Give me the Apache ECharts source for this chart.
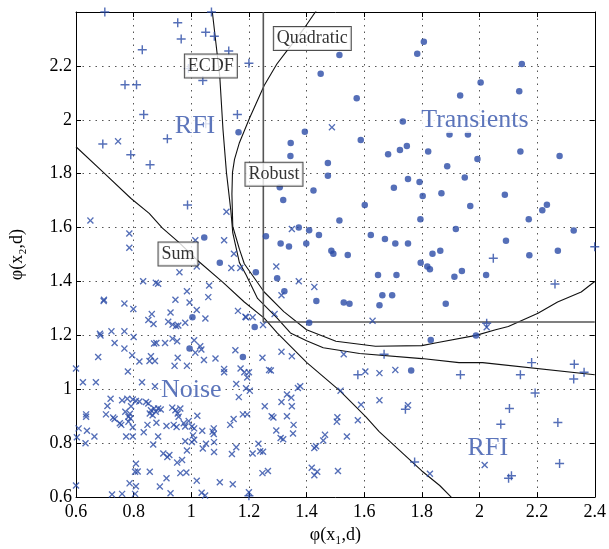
<!DOCTYPE html>
<html>
<head>
<meta charset="utf-8">
<script src="https://cdn.jsdelivr.net/npm/echarts@6/dist/echarts.min.js"></script>
<style>
  html, body { margin: 0; padding: 0; background: #fff; }
  #chart { width: 609px; height: 549px; }
</style>
</head>
<body>
<div id="chart"></div>
<script>
// axis ticks
const axisMin = 0.6
const axisMax = 2.4
const axisStep = 0.2

// RFI points (+)
const rfiPoints = [
  [0.70, 2.40], [0.953, 2.36], [1.07, 2.40], [1.05, 2.325], [1.08, 2.31], [0.965, 2.30],
  [0.83, 2.26], [1.13, 2.255], [1.20, 2.21], [0.99, 2.19], [1.04, 2.146], [0.77, 2.13],
  [0.81, 2.13], [0.835, 2.02], [1.05, 1.985], [1.16, 2.02], [0.693, 1.91], [0.917, 1.93],
  [0.79, 1.87], [0.857, 1.833], [0.987, 1.684], [2.048, 1.486], [2.40, 1.529], [2.262, 1.391],
  [2.025, 1.245], [1.669, 1.13], [1.578, 1.054], [1.743, 0.926], [1.775, 0.73],
  [2.181, 1.099], [2.329, 1.093], [2.363, 1.063], [2.327, 1.038], [1.934, 1.054], [2.142, 1.054],
  [2.193, 0.986], [2.104, 0.929], [2.074, 0.87], [2.272, 0.877], [2.278, 0.725], [2.101, 0.67],
  [2.111, 0.679], [1.2, 0.605]
]

// Noise points (x)
const noisePoints = [
  [0.746, 1.92], [0.65, 1.626], [1.122, 1.659], [0.785, 1.578], [0.785, 1.525], [1.014, 1.553],
  [1.114, 1.553], [1.148, 1.503], [1.019, 1.456], [1.139, 1.45], [1.17, 1.45], [0.959, 1.434],
  [0.833, 1.401], [0.877, 1.395], [0.885, 1.392], [0.985, 1.364], [1.062, 1.385], [0.697, 1.332],
  [0.696, 1.328], [0.768, 1.318], [0.799, 1.298], [0.945, 1.332], [1.059, 1.342], [0.994, 1.322],
  [1.019, 1.294], [0.928, 1.285], [0.863, 1.279], [0.851, 1.257], [0.869, 1.242], [0.92, 1.251],
  [0.935, 1.24], [0.947, 1.235], [0.955, 1.237], [0.979, 1.247], [1.049, 1.263], [1.162, 1.291],
  [1.188, 1.269], [0.723, 1.215], [0.768, 1.215], [0.683, 1.206],
  [1.488, 1.972], [1.349, 1.595], [1.295, 1.456], [1.373, 1.401], [1.427, 1.38], [1.313, 1.349],
  [1.289, 1.279], [1.19, 1.267], [1.213, 1.267], [1.249, 1.239], [1.629, 1.254], [2.025, 1.23],
  [0.685, 1.2], [0.8, 1.194], [0.734, 1.172], [0.768, 1.151], [0.677, 1.12], [0.795, 1.126],
  [0.82, 1.103], [0.6, 1.077], [0.78, 1.066], [0.86, 1.123], [0.855, 1.105], [0.874, 1.105],
  [0.871, 1.17], [0.879, 1.172], [0.909, 1.172], [0.935, 1.188], [0.951, 1.178], [1.01, 1.182],
  [1.031, 1.16], [1.035, 1.148], [1.014, 1.136], [0.953, 1.117], [0.942, 1.087], [0.985, 1.087],
  [1.044, 1.109], [1.084, 1.114], [1.153, 1.145], [1.114, 1.075], [1.114, 1.063], [1.171, 1.077],
  [1.184, 1.063], [0.624, 1.026], [0.669, 1.026], [0.829, 1.026], [0.874, 1.011], [1.156, 1.02],
  [1.19, 1.004], [1.165, 0.971], [0.72, 0.965], [0.76, 0.959], [0.778, 0.965], [0.797, 0.962],
  [0.808, 0.957], [0.82, 0.955], [0.843, 0.953], [0.851, 0.947], [0.709, 0.938], [0.791, 0.937],
  [0.771, 0.917], [0.787, 0.909], [0.86, 0.922], [0.871, 0.929], [0.885, 0.929], [0.894, 0.925],
  [0.856, 0.91], [0.866, 0.904], [0.877, 0.917], [0.934, 0.932], [0.945, 0.922], [0.962, 0.929],
  [0.953, 0.91], [0.956, 0.898], [1.179, 0.907], [0.635, 0.907], [0.635, 0.898], [0.704, 0.907],
  [0.729, 0.895], [0.734, 0.89], [0.752, 0.874], [0.757, 0.868], [0.782, 0.898], [0.789, 0.892],
  [0.782, 0.88], [0.797, 0.859], [0.848, 0.868], [0.879, 0.876], [0.914, 0.864], [0.939, 0.868],
  [0.949, 0.86], [0.974, 0.874], [0.979, 0.862], [1.002, 0.862], [1.01, 0.855], [1.021, 0.902],
  [0.991, 0.882], [1.078, 0.855], [1.074, 0.843], [1.078, 0.834], [1.135, 0.868], [1.147, 0.89],
  [1.038, 0.846], [0.609, 0.855], [0.603, 0.822], [0.638, 0.846], [0.664, 0.825], [0.774, 0.825],
  [0.797, 0.825], [0.835, 0.841], [0.885, 0.825], [1.006, 0.829], [1.01, 0.813], [0.979, 0.807],
  [1.002, 0.804], [0.633, 0.8], [0.868, 0.795], [1.051, 0.798], [1.04, 0.78], [1.079, 0.804],
  [1.079, 0.767], [1.156, 0.785], [1.141, 0.76], [0.985, 0.773], [0.903, 0.762], [0.924, 0.756],
  [0.917, 0.749], [0.951, 0.728], [0.968, 0.738], [0.808, 0.724], [0.805, 0.694], [0.814, 0.695],
  [0.856, 0.694], [0.914, 0.67], [0.962, 0.689], [0.983, 0.691], [1.019, 0.661], [1.099, 0.655],
  [1.144, 0.648], [0.6, 0.643], [0.786, 0.651], [0.808, 0.64], [0.891, 0.639], [0.928, 0.614],
  [0.725, 0.61], [0.76, 0.612], [0.805, 0.612], [1.036, 0.616], [1.048, 0.606], [1.2, 0.618],
  [1.247, 1.117], [1.313, 1.139], [1.349, 1.123], [1.27, 1.072], [1.276, 1.07], [1.2, 1.063],
  [1.194, 1.044], [1.529, 1.13], [1.604, 1.066], [1.653, 1.06], [1.708, 1.072], [1.203, 0.995],
  [1.332, 0.981], [1.347, 0.969], [1.37, 1.005], [1.378, 1.011], [1.313, 0.953], [1.349, 0.937],
  [1.255, 0.937], [1.518, 0.995], [1.589, 0.943], [1.653, 0.959], [1.752, 0.941], [1.194, 0.907],
  [1.279, 0.9], [1.285, 0.895], [1.332, 0.9], [1.355, 0.868], [1.353, 0.836], [1.295, 0.847],
  [1.31, 0.819], [1.319, 0.815], [1.507, 0.896], [1.505, 0.88], [1.578, 0.885], [1.54, 0.825],
  [1.464, 0.831], [1.458, 0.81], [1.433, 0.789], [1.427, 0.782], [1.233, 0.798], [1.213, 0.762],
  [1.239, 0.77], [1.249, 0.768], [1.247, 0.689], [1.266, 0.697], [1.418, 0.709], [1.437, 0.694],
  [1.427, 0.681], [1.509, 0.697], [2.018, 0.719], [1.828, 0.687]
]

// Transient points (dots)
const transientPoints = [
  [1.164, 1.954], [1.514, 2.24], [1.784, 2.245], [1.449, 2.171], [1.574, 2.08], [1.734, 1.994],
  [1.394, 1.956], [1.345, 1.914], [1.588, 1.925], [1.344, 1.866], [1.474, 1.84], [1.683, 1.872],
  [1.724, 1.888], [1.748, 1.903], [1.807, 2.29], [2.147, 2.207], [2.004, 2.138], [1.933, 2.09],
  [2.138, 2.106], [1.822, 1.882], [1.888, 1.828], [1.993, 1.855], [2.142, 1.882], [2.278, 1.866],
  [1.896, 1.945], [1.96, 1.945], [1.045, 1.563], [1.099, 1.47],
  [1.474, 1.792], [1.752, 1.78], [1.792, 1.769], [1.703, 1.748], [1.424, 1.738], [1.319, 1.702],
  [1.307, 1.75], [1.602, 1.684], [1.514, 1.626], [1.795, 1.631], [1.373, 1.6], [1.409, 1.59],
  [1.443, 1.573], [1.259, 1.568], [1.623, 1.573], [1.672, 1.558], [1.708, 1.541], [1.752, 1.541],
  [1.31, 1.541], [1.339, 1.53], [1.399, 1.541], [1.486, 1.514], [1.493, 1.503], [1.543, 1.498],
  [1.796, 1.47], [1.224, 1.434], [1.298, 1.412], [1.323, 1.364], [1.648, 1.424], [1.712, 1.424],
  [1.663, 1.349], [1.697, 1.349], [1.653, 1.312], [1.434, 1.328], [1.529, 1.322], [1.549, 1.317],
  [1.22, 1.231], [1.409, 1.247],
  [1.949, 1.786], [1.803, 1.717], [1.868, 1.727], [1.968, 1.68], [2.088, 1.722], [2.218, 1.664],
  [2.234, 1.685], [2.171, 1.631], [1.918, 1.595], [2.327, 1.589], [2.092, 1.551], [1.864, 1.514],
  [1.837, 1.503], [2.173, 1.497], [2.272, 1.514], [1.819, 1.456], [1.828, 1.445], [1.939, 1.439],
  [1.913, 1.418], [2.023, 1.424], [1.883, 1.317], [1.988, 1.2],
  [1.004, 1.267], [0.994, 1.151], [1.179, 1.12], [1.763, 1.07], [1.831, 1.183]
]

// decision boundaries
const ecdfCurve = [
  [1.072, 2.41], [1.099, 2.159], [1.11, 1.964], [1.122, 1.805], [1.137, 1.666], [1.144, 1.58],
  [1.167, 1.47], [1.19, 1.425], [1.23, 1.337], [1.298, 1.264], [1.344, 1.209], [1.40, 1.18],
  [1.458, 1.154], [1.584, 1.133], [1.8, 1.114], [1.929, 1.099], [2.011, 1.099], [2.40, 1.054]
]
const quadraticCurve = [
  [1.437, 2.41], [1.396, 2.346], [1.331, 2.255], [1.297, 2.207], [1.253, 2.127], [1.202, 2.006],
  [1.167, 1.915], [1.15, 1.853], [1.143, 1.805], [1.141, 1.725], [1.144, 1.604], [1.167, 1.52],
  [1.184, 1.466], [1.253, 1.361], [1.321, 1.288], [1.4, 1.221], [1.502, 1.178], [1.639, 1.16],
  [1.8, 1.162], [1.851, 1.173], [1.988, 1.2], [2.056, 1.221], [2.1, 1.233], [2.203, 1.282],
  [2.271, 1.324], [2.353, 1.361], [2.40, 1.40]
]
const sumCurve = [
  [0.6, 1.9], [0.695, 1.805], [0.791, 1.708], [0.854, 1.653], [0.9, 1.598], [0.956, 1.546],
  [1.021, 1.479], [1.11, 1.397], [1.184, 1.324], [1.253, 1.264], [1.298, 1.209], [1.401, 1.099],
  [1.515, 0.995], [1.606, 0.898], [1.652, 0.843], [1.8, 0.697], [1.862, 0.643], [1.902, 0.6]
]
const robustLine = [[1.25, 2.4], [1.25, 1.25], [2.4, 1.25]]

// boxed curve names
const boxNames = ['ECDF', 'Quadratic', 'Robust', 'Sum']
const boxPos = [[1.068, 2.20], [1.42, 2.302], [1.287, 1.798], [0.954, 1.502]]

// region names
const regionNames = ['RFI', 'Transients', 'Noise', 'RFI']
const regionPos = [[1.013, 1.977], [1.984, 1.999], [1.0, 0.998], [2.029, 0.783]]

const blue = '#2b4ba6'
const serif = 'Liberation Serif'
const plusPath = 'path://M4.2,0H5.8V4.2H10V5.8H5.8V10H4.2V5.8H0V4.2H4.2Z'

const myChart = echarts.init(document.getElementById('chart'))

function lineSeries (data, color, width) {
  return {
    type: 'line',
    data: data,
    showSymbol: false,
    silent: true,
    z: 2,
    lineStyle: { color: color, width: width },
    itemStyle: { color: color }
  }
}

const xAxisBase = {
  type: 'value',
  min: axisMin,
  max: axisMax,
  interval: axisStep,
  axisLine: { onZero: false, lineStyle: { color: '#000', width: 1 } },
  axisTick: { inside: true, length: 5, lineStyle: { color: '#000' } }
}

const option = {
  animation: false,
  backgroundColor: '#fff',
  grid: { left: 69, right: 13, top: 12, bottom: 44 },
  xAxis: [
    Object.assign({}, xAxisBase, {
      position: 'bottom',
      name: 'φ(x₁,d)',
      nameLocation: 'middle',
      nameGap: 26,
      nameTextStyle: { fontFamily: serif, fontSize: 18, color: '#000' },
      axisLabel: { fontFamily: serif, fontSize: 18, color: '#000', margin: 6 },
      splitLine: { show: true, lineStyle: { type: [1.5, 5], color: '#555' } }
    }),
    Object.assign({}, xAxisBase, {
      position: 'top',
      axisLabel: { show: false },
      splitLine: { show: false }
    })
  ],
  yAxis: [
    Object.assign({}, xAxisBase, {
      position: 'left',
      name: 'φ(x₂,d)',
      nameLocation: 'middle',
      nameGap: 50,
      nameRotate: 90,
      nameTextStyle: { fontFamily: serif, fontSize: 18, color: '#000' },
      axisLabel: {
        fontFamily: serif, fontSize: 18, color: '#000', margin: 4,
        formatter: v => (v > 2.39 ? '' : String(+v.toFixed(1)))
      },
      splitLine: { show: true, lineStyle: { type: [1.5, 5], color: '#555' } }
    }),
    Object.assign({}, xAxisBase, {
      position: 'right',
      axisLabel: { show: false },
      splitLine: { show: false }
    })
  ],
  series: [
    lineSeries(ecdfCurve, '#111', 1.1),
    lineSeries(quadraticCurve, '#111', 1.1),
    lineSeries(sumCurve, '#111', 1.1),
    lineSeries(robustLine, '#555', 1.6),
    {
      name: 'RFI',
      type: 'scatter',
      data: rfiPoints,
      symbol: plusPath,
      symbolSize: 9,
      itemStyle: { color: blue },
      z: 3
    },
    {
      name: 'Noise',
      type: 'scatter',
      data: noisePoints,
      symbol: plusPath,
      symbolSize: 8.5,
      symbolRotate: 45,
      itemStyle: { color: blue },
      z: 3
    },
    {
      name: 'Transients',
      type: 'scatter',
      data: transientPoints,
      symbol: 'circle',
      symbolSize: 6.5,
      itemStyle: { color: blue },
      z: 3
    },
    {
      type: 'scatter',
      data: boxNames.map((n, i) => ({ name: n, value: boxPos[i] })),
      symbolSize: 0,
      z: 5,
      label: {
        show: true,
        position: 'inside',
        formatter: p => p.name,
        fontFamily: serif,
        fontSize: 18,
        color: '#000',
        backgroundColor: '#fff',
        borderColor: '#222',
        borderWidth: 1,
        padding: [3, 3, 2, 3]
      }
    },
    {
      type: 'scatter',
      data: regionNames.map((n, i) => ({ name: n, value: regionPos[i] })),
      symbolSize: 0,
      z: 5,
      label: {
        show: true,
        position: 'inside',
        formatter: p => p.name,
        fontFamily: serif,
        fontSize: 26,
        color: '#3352aa',
        backgroundColor: '#fff',
        padding: [0, 0, 0, 0]
      }
    }
  ]
}
option && myChart.setOption(option)
</script>
</body>
</html>
